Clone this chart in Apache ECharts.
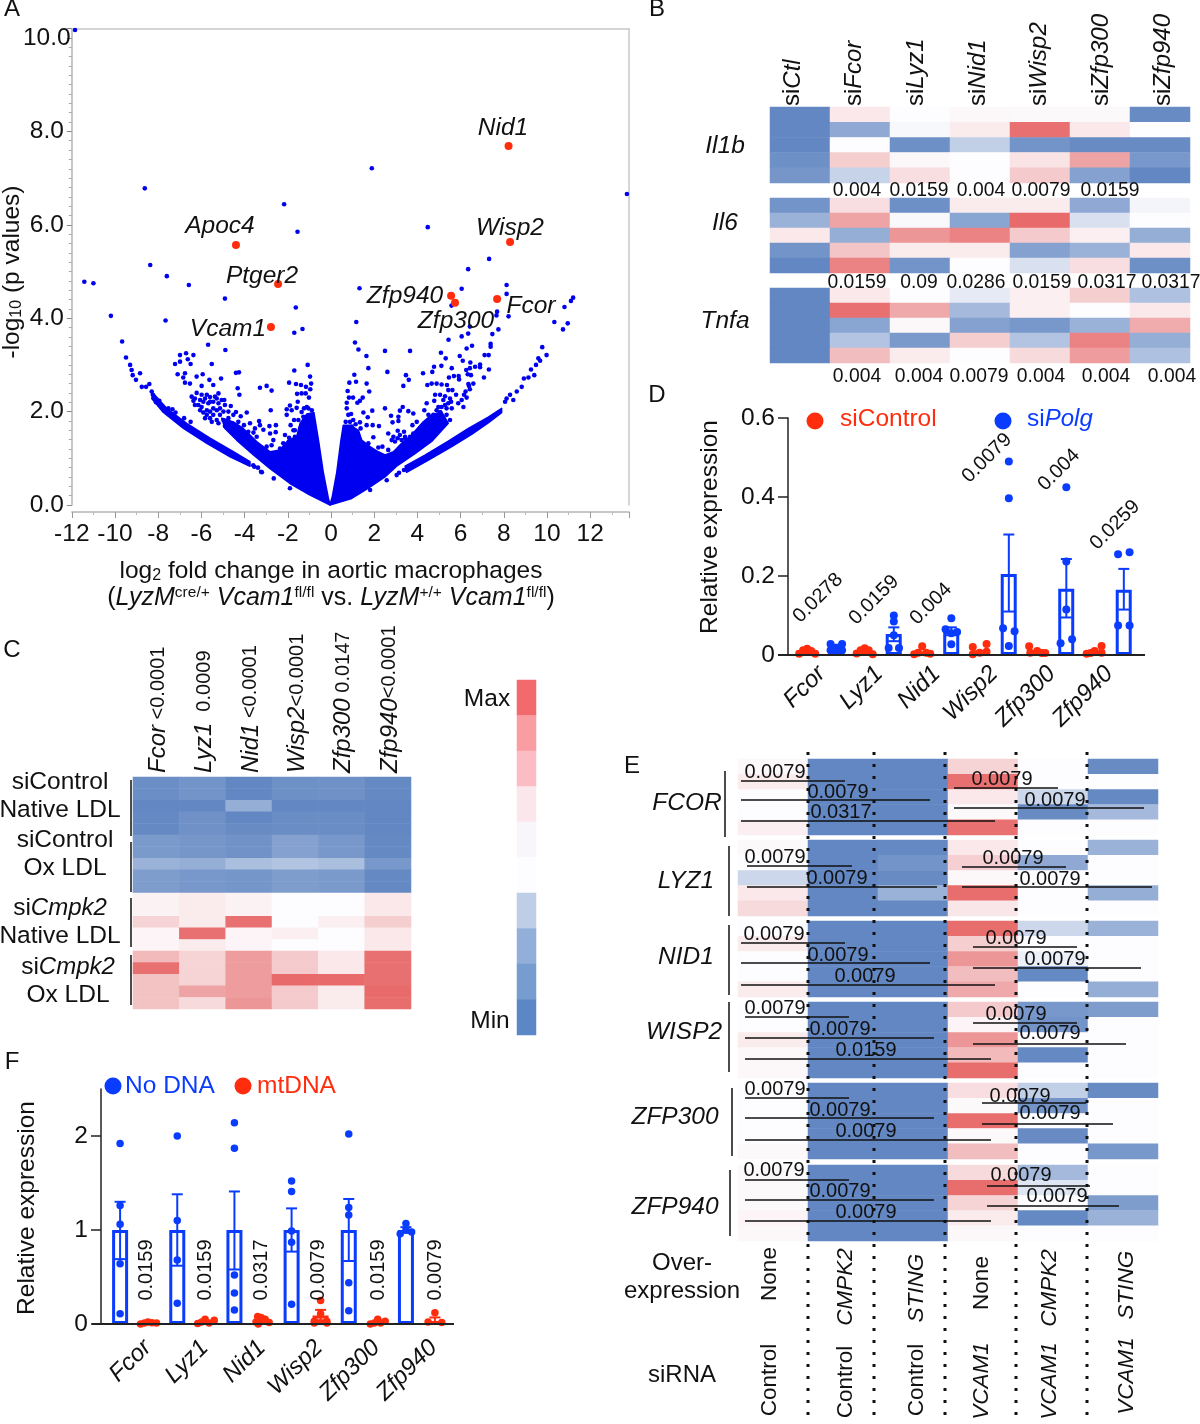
<!DOCTYPE html>
<html>
<head>
<meta charset="utf-8">
<style>
  html, body { margin: 0; background: #fff; }
  #chart { width: 1200px; height: 1424px; }
</style>
<script src="https://cdn.jsdelivr.net/npm/echarts@6/dist/echarts.min.js"></script>
</head>
<body>
<div id="chart"></div>
<script>
// panel A, log2 fold change / -log10 p
const geneHits = [
  ['Nid1', 8.22, 7.69], ['Apoc4', -4.4, 5.57], ['Ptger2', -2.45, 4.73], ['Vcam1', -2.78, 3.81],
  ['Wisp2', 8.29, 5.63], ['Zfp940', 5.56, 4.48], ['Zfp300', 5.74, 4.33], ['Fcor', 7.69, 4.41]
];
const volcanoOutliers = [
  [-11.85,10.17],[-8.62,6.78],[-2.17,6.44],[-1.55,5.85],[-8.37,5.14],[-7.6,4.9],[-11.42,4.78],[-11,4.75],[-6.58,4.71],
  [-4.91,4.42],[-1.63,4.23],[-10.19,4.05],[-7.66,3.95],[-1.32,3.77],[-1.7,3.69],
  [1.89,7.21],[4.48,5.95],[13.7,6.66],[7.32,5.27],[6.35,5.05],[8.13,4.71],[6.05,4.63],[1.32,4.64],[8.13,4.52],[5.58,4.27],
  [11.21,4.44],[11.11,4.37],[10.81,4.24],[8.22,4.04],[7.69,4.14],[7.66,4.06],[10.34,3.92],[10.96,3.89],[10.74,3.76],[1.17,3.92],
  [6.43,3.82],[7.75,3.76],[7.47,3.66],[6.35,3.67],[6.05,3.61],[5.44,3.54]
];
const volcanoLeftDots = [
  [-9.67,3.5],[-9.49,3.16],[-9.3,3],[-9.23,2.89],[-9.18,2.78],[-9.03,2.68],[-8.84,2.82],[-8.41,2.59],[-8.76,2.53],[-8.56,2.53],
  [-8.3,2.43],[-8.25,2.36],[-7.95,2.23],[-7.53,2.07],[-7.34,2.05],[-6.8,1.86],
  [-6.99,3.21],[-6.71,3.25],[-6.37,3.21],[-6.99,3.07],[-7.22,3.02],[-6.63,3.12],[-6.5,3.02],[-5.52,3.02],[-5.69,3.43],[-4.89,3.32],
  [-7.1,2.8],[-6.84,2.73],[-6.76,2.82],[-6.76,2.62],[-6.53,2.6],[-6.22,2.75],[-5.94,2.8],[-5.63,2.68],[-5.99,2.55],[-5.45,2.57],
  [-5.09,2.71],[-4.4,2.83],[-4.26,2.84],[-4.32,2.5],[-4.24,2.36],[-3.29,2.51],[-2.98,2.55],[-2.75,2.45],[-1.7,2.88],[-1.08,3],
  [-0.97,2.75],[-1.94,2.62],[-1.62,2.59],[-1.39,2.57],[-1.16,2.53],[-0.92,2.6],[-0.96,2.48],[-2.79,2.03],[-1.57,2.38],[-1.36,2.39],
  [-1.17,2.39],[-1.02,2.3],[-1.54,2.21],[-1.9,2.13],[-1.59,2.08],[-2.05,2.05],[-1.82,2.03],[-2.05,1.93],[-1.25,2.07],[-1.12,2.1],
  [-1.71,1.82],[-1.87,1.71],[-1.74,1.6],[-2.13,1.5],[-1.94,1.44],[-1.67,1.46],[-1.43,1.39],[-1.28,1.6],
  [-3.33,1.8],[-3.29,1.71],[-2.55,1.71],[-2.85,1.69],[-3.13,1.61],[-3.52,1.64],[-3.59,1.55],[-2.82,1.53],[-2.56,1.56],[-3.44,1.46],
  [-2.67,1.39],[-2.98,1.25],[-2.75,1.28],[-2.21,1.32],[-2.36,1.21],
  [-3.9,1.98],[-4.18,1.9],[-4.4,1.99],[-4.64,2.12],[-4.94,2.25],[-5.21,2.39],
  [-6.45,2.32],[-6.22,2.4],[-5.99,2.36],[-5.75,2.36],[-5.6,2.31],[-6.37,2.23],[-6.14,2.14],[-5.91,2.21],[-5.68,2.18],[-5.45,2.21],
  [-5.21,2.18],[-6.06,2.03],[-5.75,2.03],[-5.45,2.07],[-5.14,2.07],[-4.91,2.14],[-5.75,1.93],[-5.45,1.93],[-5.14,1.93],[-5.6,1.86],
  [-5.29,1.82],[-4.98,1.82],[-4.75,1.86],[-4.67,1.71],[-4.29,1.78],[-4.03,1.71],[-3.83,1.57],[-5.29,2.28],
  [-6.3,2.28],[-6.06,2.25],[-5.83,2.28],[-6.3,2.14],[-5.99,2.1],[-5.6,2.21],[-5.37,2.32],[-5.06,2.25],[-5.91,1.98],[-5.6,2],[-5.29,2.03],
  [-4.98,2],[-4.75,2],[-5.83,1.86],[-5.52,1.78],[-5.21,1.75],[-4.91,1.69],[-4.52,1.93],[-4.29,1.66],[-3.75,1.75],[-3.98,1.46],[-3.67,1.39],
  [-1.36,1.39],[-1.12,1.39],[-1.43,1.64],[-1.67,1.6],[-1.51,1.82],[-1.28,1.89],[-1.36,1.99],[-1.05,2.07],[-0.89,2.03],
  [-3.55,0.82],[-3.24,0.71],[-3.2,0.7],[-2.65,0.57],[-1.9,0.36],[-3.38,0.8],[-3.6,0.85],[-8.1,2.2],[-7.8,2.1],[-7.2,1.98],[-6.5,1.78]
];
const volcanoRightDots = [
  [1.11,3.48],[1.27,3.33],[1.64,3.19],[2.5,3.3],[3.66,3.3],[1.73,2.93],[2.61,2.85],[1.08,2.79],[0.85,2.62],[1.16,2.64],[1.65,2.6],
  [1.77,2.43],[0.77,2.44],[0.83,2.3],[1.02,2.3],[1.47,2.3],[1.34,2.23],[1.22,2.19],[0.73,2.19],[0.73,2.07],[2.5,2.07],[1.91,2.02],
  [1.5,1.98],[3.32,2.1],[3.19,2.02],[2.78,1.91],[3.12,1.89],[3.12,1.8],[2.85,1.77],[1.7,1.88],[1.34,1.77],[1.65,1.71],[1.93,1.71],
  [2.22,1.69],[1.37,1.64],[0.8,1.93],[0.93,1.95],[1.03,1.82],[1.14,1.73],[2.65,1.53],[3.09,1.59],[3.38,1.57],[1.96,1.45],[1.73,1.32],
  [2.19,1.23],[2.38,1.25],[2.96,1.36],[2.81,1.39],[3.09,1.43],[3.43,1.43],
  [3.47,2.78],[3.6,2.68],[3.35,2.55],[4.26,2.82],[4.69,2.85],[4.77,2.96],[5.11,2.98],[5.09,3.26],[5.31,3.14],[5.59,2.93],[5.46,2.73],
  [5.69,2.76],[5.91,2.76],[5.93,2.69],[5.37,2.57],[4.46,2.57],[4.66,2.6],[4.89,2.6],[5.12,2.58],[5.43,2.46],[5.62,2.46],[4.82,2.36],
  [5.05,2.36],[5.28,2.33],[5.79,2.36],[4.43,2.18],[4.78,2.23],[4.32,2.03],[3.58,2.01],[3.81,1.96],[3.77,1.71],[3.97,1.78],[5.96,3.19],
  [6.1,3.09],[6.28,3.35],[6.53,3.41],[6.45,3.05],[6.67,2.96],[6.9,3.01],[6.9,2.95],[6.43,2.93],[6.26,2.89],[6.33,2.8],[6.48,2.78],
  [7.08,2.73],[7.31,2.9],[7.11,3.21],[7.3,3.21],[7.39,3.39],[7.39,3.45],[6.59,2.6],[6.36,2.59],[6.39,2.55],[6.43,2.48],[6.23,2.43],
  [6.16,2.36],[6.28,2.3],[6.05,2.25],[5.89,2.18],[6.13,2.1],
  [5.2,2.25],[5.43,2.18],[5.56,2.21],[5.12,2.1],[5.35,2.07],[5.59,2.07],[5.05,1.99],[5.35,1.93],[5.51,1.82],[5.25,1.78],[4.97,1.71],
  [4.74,1.93],[4.51,1.82],[4.35,1.71],[4.12,1.64],[3.43,1.46],[3.81,1.53],
  [4.51,1.93],[4.89,2.03],[4.97,2.1],[5.28,2.14],[5.51,2.28],[4.89,1.89],[5.12,1.85],[4.66,1.75],[4.35,1.6],[4.04,1.5],[3.66,1.46],
  [3.27,1.39],[3.58,1.39],[2.65,1.18],[3.19,1.5],[2.89,1.46],
  [0.8,1.5],[0.96,1.68],[0.88,1.78],[0.68,1.78],
  [8.13,2.28],[8.29,2.36],[8.06,2.21],[8.44,2.25],[8.6,2.43],[8.83,2.53],[9.14,2.73],[8.93,2.71],[9.41,2.78],[9.26,2.9],[9.49,3],
  [9.68,3.09],[9.6,3.14],[9.98,3.21],[9.78,3.38],[3.38,0.75],[3.04,0.64],[3.15,0.69],[2.58,0.53],[1.81,0.32]
];
// outlines of the solid blue areas, same units as the dots
const leftMass = [[-0.04,0],[-0.97,0.21],[-1.9,0.46],[-2.82,0.78],[-3.59,1.07],[-4.37,1.39],[-4.91,1.64],[-5.06,1.86],[-4.52,1.78],[-4.06,1.64],
  [-3.44,1.36],[-2.82,1.14],[-2.36,1.18],[-1.98,1.39],[-1.59,1.46],[-1.43,1.75],[-1.12,1.95],[-0.79,1.98],[-0.58,1.39],[-0.35,0.68],[-0.12,0.14]];
const rightMass = [[-0.05,0],[0.96,0.14],[1.73,0.36],[2.5,0.6],[3.04,0.83],[3.89,1.1],[4.66,1.36],[5.43,1.75],[5.12,2],[4.66,1.93],[4.27,1.78],
  [3.73,1.5],[3.27,1.32],[2.89,1.14],[2.5,1.07],[2.19,1.14],[1.81,1.25],[1.42,1.39],[1.27,1.6],[0.88,1.71],[0.57,1.71],[0.46,1.39],[0.26,0.68],[0.06,0.18]];
const leftArm = [[-8.22,2.39],[-7.61,2.07],[-6.68,1.75],[-5.6,1.43],[-4.52,1.14],[-3.75,0.93],[-3.75,0.83],[-4.67,1.03],[-5.75,1.32],[-6.83,1.64],[-7.76,1.98],[-8.3,2.28]];
const rightArm = [[3.43,0.83],[4.35,1.07],[5.43,1.37],[6.36,1.64],[7.28,1.88],[7.9,2.07],[7.9,1.98],[7.28,1.76],[6.51,1.51],[5.59,1.25],[4.51,0.96],[3.5,0.7]];

// panel B
const bCols = ['Ctl', 'Fcor', 'Lyz1', 'Nid1', 'Wisp2', 'Zfp300', 'Zfp940'];
const bIl1b = [
  [-1, .12, 0, .03, .02, .02, -.95],
  [-1, -.6, -.03, .1, .95, .12, 0],
  [-1, 0, -.9, -.3, -.85, -.95, -.95],
  [-.9, .28, .03, 0, .15, .55, -.8],
  [-.82, -.28, .18, 0, .3, -.7, -1]
];
const bIl6 = [
  [-.85, .18, -.9, .1, .1, -.6, -.05],
  [-.5, .55, -.02, -.65, 1, -.18, 0],
  [.12, -.55, .65, .8, .3, .08, -.55],
  [-.85, .33, .1, .1, -.7, -.5, .12],
  [-1, .8, -.85, 0, -.18, .18, -.9]
];
const bTnfa = [
  [-1, .12, 0, -.12, .08, .28, -.4],
  [-1, .95, .5, -.45, .08, 0, .12],
  [-1, -.65, .03, -.7, -.8, -.5, .48],
  [-1, -.38, -.78, .28, -.38, .8, -.55],
  [-1, .38, .1, 0, .2, .6, -.4]
];

// panel C
const cCols = ['Fcor <0.0001', 'Lyz1  0.0009', 'Nid1 <0.0001', 'Wisp2<0.0001', 'Zfp300 0.0147', 'Zfp940<0.0001'];
const cValues = [
  [-.92, -.85, -1, -.9, -.88, -.97],
  [-.92, -.85, -1, -.9, -.88, -.97],
  [-1, -1, -.55, -1, -1, -1],
  [-.97, -.88, -1, -.93, -.93, -1],
  [-.97, -.88, -.95, -.93, -.93, -1],
  [-.78, -.82, -.87, -.7, -.8, -.97],
  [-.78, -.82, -.87, -.7, -.8, -.97],
  [-.5, -.55, -.42, -.38, -.42, -.8],
  [-.75, -.8, -.83, -.75, -.78, -.97],
  [-.75, -.8, -.83, -.75, -.78, -.97],
  [.06, .1, .06, 0, 0, .12],
  [.06, .1, .06, 0, 0, .12],
  [.25, .1, .95, 0, .08, .28],
  [.05, .95, .05, .08, 0, .12],
  [.05, .1, .05, 0, 0, .12],
  [.4, .25, .6, .3, .12, .95],
  [.95, .25, .6, .3, .12, .95],
  [.35, .25, .6, 1, 1, .95],
  [.35, .55, .6, .3, .1, 1],
  [.35, .2, .65, .3, .1, .98]
];
const colorBarSteps = [1, .78, .56, .33, .11, -.11, -.33, -.56, -.78, -1];

// panel D
const barGenes = ['Fcor', 'Lyz1', 'Nid1', 'Wisp2', 'Zfp300', 'Zfp940'];
const dRedMeans = [.008, .008, .008, .012, .008, .01];
const dBlueMeans = [.02, .053, .06, .205, .168, .165];
const dBlueLow = [.012, .035, .05, .11, .095, .115];
const dBlueHigh = [.026, .07, .07, .305, .243, .218];
const dRedDots = [
  [[-.14,.003],[-.07,.012],[0,.016],[.07,.01],[.14,.003]],
  [[-.14,.004],[-.07,.012],[0,.017],[.07,.012],[.14,.002]],
  [[-.14,.002],[-.07,.006],[0,.022],[.07,.006],[.14,.003]],
  [[-.12,.002],[-.12,.02],[0,.006],[.12,.008],[.12,.028]],
  [[-.14,.022],[-.12,.006],[0,.01],[.08,.005],[.14,.005]],
  [[-.14,.003],[-.07,.005],[0,.01],[.12,.006],[.12,.023]]
];
const dBlueDots = [
  [[-.1,.028],[.1,.028],[-.1,.012],[.1,.012],[0,.016]],
  [[0,.1],[0,.085],[0,.05],[-.09,.018],[.09,.018]],
  [[0,.093],[-.1,.065],[.1,.058],[0,.055],[0,.027]],
  [[0,.49],[0,.397],[-.1,.068],[.1,.06],[0,.023]],
  [[0,.425],[0,.237],[0,.115],[.1,.04],[-.1,.03]],
  [[-.1,.255],[.1,.26],[-.1,.075],[.1,.075]]
];

// panel E
const eGenes = ['FCOR', 'LYZ1', 'NID1', 'WISP2', 'ZFP300', 'ZFP940'];
const eOverExpression = ['None', 'CMPK2', 'STING', 'None', 'CMPK2', 'STING'];
const eSiRna = ['Control', 'Control', 'Control', 'VCAM1', 'VCAM1', 'VCAM1'];
const eFcor = [
  [.03, -1, -1, .25, 0, -.95],
  [.1, -1, -1, .95, 0, 0],
  [0, -1, -1, .12, -.25, -.98],
  [0, -1, -1, .02, -.95, -.45],
  [.08, -1, -1, .95, 0, 0]
];
const eLyz1 = [
  [.02, -1, -.97, .12, 0, -.5],
  [0, -1, -.85, .27, -.6, 0],
  [-.25, -1, -.95, .03, 0, 0],
  [.12, -1, -.5, .97, 0, -.55],
  [.2, -1, -.97, .13, 0, 0]
];
const eNid1 = [
  [0, -1, -1, .97, -.25, -.5],
  [.1, -1, -1, .28, 0, 0],
  [0, -1, -1, .65, -.08, 0],
  [0, -1, -1, .38, -.97, 0],
  [.1, -1, -1, .5, 0, -.55]
];
const eWisp2 = [
  [0, -1, -1, .3, -.8, -.75],
  [0, -1, -1, .05, -.85, 0],
  [.1, -1, -1, .65, 0, 0],
  [.03, -1, -1, .4, -.97, 0],
  [.03, -1, -1, .97, 0, 0]
];
const eZfp300 = [
  [0, -1, -1, .18, -.3, -.95],
  [0, -1, -1, .02, -.85, 0],
  [0, -1, -1, .97, 0, 0],
  [0, -1, -1, .02, -.95, 0],
  [.02, -1, -1, .38, 0, -.8]
];
const eZfp940 = [
  [.02, -1, -1, .2, -.45, 0],
  [.02, -1, -1, .97, -.15, 0],
  [.02, -1, -1, .25, 0, -.75],
  [.05, -1, -1, .1, -.97, -.5],
  [.03, -1, -1, .03, 0, 0]
];

// panel F
const fBlueMeans = [1, 1, 1, 1, 1, 1];
const fRedMeans = [.01, .02, .03, .09, .02, .03];
const fBlueLow = [.69, .62, .58, .77, .67, .97];
const fBlueHigh = [1.3, 1.38, 1.41, 1.23, 1.33, 1.03];
const fRedLow = [0, .01, .01, .04, .01, 0];
const fRedHigh = [.02, .03, .05, .15, .03, .07];
const fBlueDots = [
  [[0,1.92],[0,1.26],[0,1.06],[0,.64],[0,.11]],
  [[0,2],[0,1.1],[0,.68],[0,.22]],
  [[0,2.14],[0,1.87],[0,.52],[0,.33],[0,.15]],
  [[0,1.52],[0,1.41],[0,.99],[0,.87],[0,.21]],
  [[0,2.02],[0,1.24],[0,1.16],[0,.44],[0,.14]],
  [[0,1.07],[-.1,.96],[.1,.98],[0,1]]
];
const fRedDots = [
  [[-.15,0],[-.08,.01],[-.02,.02],[.05,.012],[.13,.01]],
  [[-.15,.005],[-.08,.02],[-.02,.05],[.05,.01],[.14,.04]],
  [[-.1,.08],[-.04,.07],[.03,.05],[-.13,.02],[.1,.015],[-.09,0]],
  [[0,.25],[0,.11],[-.11,.03],[.11,.03],[-.11,.01],[.11,.01]],
  [[-.13,0],[-.06,.01],[0,.05],[.05,.01],[.13,.03]],
  [[0,.12],[-.12,.02],[.12,.015]]
];

const FONT = '"Liberation Sans", Arial, sans-serif';
const BLUE = '#0a3cff';
const RED = '#ff2d0d';
const DOT_BLUE = '#0000f0';
const INK = '#111';

const grids = [], xAxes = [], yAxes = [], series = [], gfx = [], heatIdx = [];

const rich = {
  i: { fontStyle: 'italic', fontSize: 24, fontFamily: FONT },
  s: { fontSize: 20, fontFamily: FONT },
  sub: { fontSize: 16, fontFamily: FONT, verticalAlign: 'bottom', lineHeight: 26 },
  sup: { fontSize: 15.5, fontFamily: FONT, verticalAlign: 'top', lineHeight: 26 },
  n: { fontSize: 25, fontFamily: FONT, lineHeight: 26 },
  ni: { fontStyle: 'italic', fontSize: 25, fontFamily: FONT, lineHeight: 26 }
};

function txt(x, y, text, opt) {
  opt = opt || {};
  gfx.push({
    type: 'text', x: x, y: y, z: 100, silent: true,
    rotation: (opt.rot || 0) * Math.PI / 180,
    style: {
      text: text, fontSize: opt.size || 24.5, fontFamily: FONT, fontStyle: opt.italic ? 'italic' : 'normal',
      fill: opt.color || INK, align: opt.align || 'center', verticalAlign: 'middle',
      textAlign: opt.align || 'center', textVerticalAlign: 'middle', rich: opt.rich
    }
  });
}
function seg(x1, y1, x2, y2, opt) {
  opt = opt || {};
  gfx.push({
    type: 'line', z: opt.z || 90, silent: true,
    shape: { x1: x1, y1: y1, x2: x2, y2: y2 },
    style: { stroke: opt.color || '#111', lineWidth: opt.width || 1.5, lineDash: opt.dash }
  });
}
function dot(x, y, r, color) {
  gfx.push({ type: 'circle', z: 100, silent: true, shape: { cx: x, cy: y, r: r }, style: { fill: color } });
}

const hiddenCat = { axisLine: { show: false }, axisTick: { show: false }, splitLine: { show: false } };

// rotated column names on a band of their own, they are not quite under their columns
function topLabels(left, top, width, labels, fmt, margin) {
  const g = grids.length;
  grids.push({ left: left, top: top, width: width, height: 10 });
  xAxes.push(Object.assign({
    gridIndex: g, type: 'category', position: 'top', data: labels,
    axisLabel: {
      show: true, interval: 0, rotate: 90, margin: margin, color: INK, hideOverlap: false, rich: rich,
      fontFamily: FONT, fontSize: 24, formatter: fmt
    }
  }, hiddenCat));
  yAxes.push({ gridIndex: g, type: 'value', min: 0, max: 1, show: false });
}

// one heatmap block on its own grid
function heat(left, top, width, height, matrix) {
  const g = grids.length;
  grids.push({ left: left, top: top, width: width, height: height });
  xAxes.push(Object.assign({
    gridIndex: g, type: 'category', data: matrix[0].map((_, i) => i), axisLabel: { show: false }
  }, hiddenCat));
  yAxes.push(Object.assign({
    gridIndex: g, type: 'category', inverse: true, data: matrix.map((_, i) => i), axisLabel: { show: false }
  }, hiddenCat));
  const data = [];
  matrix.forEach((row, r) => row.forEach((v, c) => data.push([c, r, v])));
  heatIdx.push(series.length);
  series.push({
    type: 'heatmap', xAxisIndex: xAxes.length - 1, yAxisIndex: yAxes.length - 1, data: data,
    itemStyle: { borderWidth: 0 }, emphasis: { disabled: true }, silent: true
  });
}

// hollow bars, dots and error bars, shared by panels D and F
function barPanel(p) {
  const g = grids.length;
  grids.push({ left: p.left, top: p.top, width: p.width, height: p.height });
  const xCat = xAxes.length;
  const catLabel = { interval: 0, rotate: 45, margin: p.labelMargin, color: INK, fontFamily: FONT, fontSize: 24, fontStyle: 'italic', hideOverlap: false };
  xAxes.push(Object.assign({
    gridIndex: g, type: 'category', data: barGenes, axisLabel: p.labelDx ? { show: false } : catLabel
  }, hiddenCat));
  const xVal = xAxes.length;
  xAxes.push({ gridIndex: g, type: 'value', min: 0, max: 6, show: false });
  const yIdx = yAxes.length;
  yAxes.push({
    gridIndex: g, type: 'value', min: 0, max: p.yMax, interval: p.yStep, offset: 5, splitLine: { show: false },
    axisLine: { show: true, onZero: false, lineStyle: { color: '#222', width: 1.5 } },
    axisTick: { show: true, length: 10, customValues: p.ticks, lineStyle: { color: '#222', width: 1.5 } },
    axisLabel: {
      color: INK, fontFamily: FONT, fontSize: 24.5, margin: 13, customValues: p.ticks,
      formatter: v => (p.fmt ? p.fmt(v) : String(v))
    }
  });
  if (p.labelDx) {
    // the tick labels sit a little right of their bars here, so they get their own band
    const gl = grids.length;
    grids.push({ left: p.left + p.labelDx, top: p.top, width: p.width, height: p.height });
    xAxes.push(Object.assign({ gridIndex: gl, type: 'category', data: barGenes, axisLabel: catLabel }, hiddenCat));
    yAxes.push({ gridIndex: gl, type: 'value', min: 0, max: p.yMax, show: false });
  }
  const groups = [p.first, p.second];
  groups.forEach(s => {
    series.push({
      type: 'bar', xAxisIndex: xCat, yAxisIndex: yIdx, data: s.means, barWidth: 16, barGap: '81%', silent: true,
      itemStyle: { color: 'rgba(0,0,0,0)', borderColor: s.color, borderWidth: 3 }
    });
  });
  groups.forEach((s, k) => {
    const side = k === 0 ? -0.2535 : 0.2535;
    if (s.low) {
      series.push({
        type: 'custom', xAxisIndex: xVal, yAxisIndex: yIdx, silent: true, z: 4,
        data: s.low.map((lo, i) => [i + 0.5 + side, lo, s.high[i]]),
        encode: { x: 0, y: [1, 2] },
        renderItem: (params, api) => {
          const a = api.coord([api.value(0), api.value(1)]);
          const b = api.coord([api.value(0), api.value(2)]);
          const st = { stroke: s.color, lineWidth: 2, fill: 'none' };
          const line = (x1, y1, x2, y2) => ({ type: 'line', shape: { x1: x1, y1: y1, x2: x2, y2: y2 }, style: st });
          return {
            type: 'group',
            children: [line(a[0], a[1], b[0], b[1]), line(a[0] - 5.5, a[1], a[0] + 5.5, a[1]), line(a[0] - 5.5, b[1], a[0] + 5.5, b[1])]
          };
        }
      });
    }
    const pts = [];
    s.dots.forEach((list, i) => list.forEach(d => pts.push([i + 0.5 + side + d[0], d[1]])));
    series.push({
      type: 'scatter', xAxisIndex: xVal, yAxisIndex: yIdx, data: pts, symbolSize: p.dotSize, silent: true, z: 5, clip: false,
      itemStyle: { color: s.color, opacity: 1 }
    });
  });
}

// ---- panel A
function buildVolcano() {
  const g = grids.length;
  grids.push({ left: 71.8, top: 505 - 10.2 * 46.7, width: 21.6 * 25.8, height: 10.2 * 46.7 });
  const gray = { color: '#b5b5b5', width: 1.5 };
  const x0 = xAxes.length;
  xAxes.push({
    gridIndex: g, type: 'value', min: -12, max: 13.8, interval: 2, offset: 7, splitLine: { show: false },
    axisLine: { show: true, onZero: false, lineStyle: gray },
    axisTick: { show: true, length: 6, lineStyle: { color: '#999' } },
    minorTick: { show: true, splitNumber: 2, length: 3, lineStyle: { color: '#bbb' } },
    axisLabel: { color: INK, fontFamily: FONT, fontSize: 24.5, margin: 10, showMaxLabel: false }
  });
  xAxes.push({
    gridIndex: g, type: 'value', min: -12, max: 13.8, splitLine: { show: false },
    axisLine: { show: true, onZero: false, lineStyle: { color: '#c8c8c8', width: 1.5 } },
    axisTick: { show: false }, axisLabel: { show: false }
  });
  const y0 = yAxes.length;
  yAxes.push({
    gridIndex: g, type: 'value', min: 0, max: 10.2, interval: 2, splitLine: { show: false },
    axisLine: { show: true, onZero: false, lineStyle: gray },
    axisTick: { show: true, length: 5, lineStyle: { color: '#888' } },
    minorTick: { show: true, splitNumber: 10, length: 3, lineStyle: { color: '#aaa' } },
    axisLabel: { color: INK, fontFamily: FONT, fontSize: 24.5, align: 'center', margin: 25, showMaxLabel: false, formatter: v => v.toFixed(1) }
  });
  yAxes.push({
    gridIndex: g, type: 'value', position: 'right', min: 0, max: 10.2, splitLine: { show: false },
    axisLine: { show: true, onZero: false, lineStyle: { color: '#c8c8c8', width: 1.5 } },
    axisTick: { show: false }, axisLabel: { show: false }
  });
  const polys = [leftMass, rightMass, leftArm, rightArm];
  series.push({
    type: 'custom', xAxisIndex: x0, yAxisIndex: y0, clip: false, silent: true, z: 2,
    data: polys.map((_, i) => [i, 0]),
    encode: { x: 0, y: 1 },
    renderItem: (params, api) => ({
      type: 'polygon',
      shape: { points: polys[params.dataIndex].map(p => api.coord(p)) },
      style: { fill: DOT_BLUE, stroke: DOT_BLUE, lineWidth: 1.5, lineJoin: 'round' }
    })
  });
  series.push({
    type: 'scatter', xAxisIndex: x0, yAxisIndex: y0, clip: false, silent: true, z: 3, symbolSize: 4.6,
    data: volcanoOutliers.concat(volcanoLeftDots, volcanoRightDots),
    itemStyle: { color: DOT_BLUE, opacity: 1 }
  });
  series.push({
    type: 'scatter', xAxisIndex: x0, yAxisIndex: y0, silent: true, z: 4, symbolSize: 8,
    data: geneHits.map(h => [h[1], h[2]]),
    itemStyle: { color: RED, opacity: 1 }
  });
}

const chart = echarts.init(document.getElementById('chart'), null, { renderer: 'canvas' });

buildVolcano();
txt(331, 571, 'log{sub|2} fold change in aortic macrophages', { rich: rich });
txt(331, 598, '({ni|LyzM}{sup|cre/+} {ni|Vcam1}{sup|fl/fl} {n|vs.} {ni|LyzM}{sup|+/+} {ni|Vcam1}{sup|fl/fl}{n|)}', { rich: rich, size: 25 });
txt(12, 272, '-log{sub|10} (p values)', { rich: rich, rot: 90 });
txt(503, 128, 'Nid1', { italic: true });
txt(220, 226, 'Apoc4', { italic: true });
txt(262, 276, 'Ptger2', { italic: true });
txt(228, 329, 'Vcam1', { italic: true });
txt(510, 228, 'Wisp2', { italic: true });
txt(405, 296, 'Zfp940', { italic: true });
txt(456, 321, 'Zfp300', { italic: true });
txt(531, 306, 'Fcor', { italic: true });

// ---- panel B
const bFmt = v => 'si{i|' + v + '}';
topLabels(762, 107, 432, bCols, bFmt, 1);
heat(770, 107, 420, 76, bIl1b);
heat(770, 198, 420, 75, bIl6);
heat(770, 288, 420, 75, bTnfa);
txt(725, 146, 'Il1b', { italic: true });
txt(725, 223, 'Il6', { italic: true });
txt(725, 321, 'Tnfa', { italic: true });
[[857,'0.004'],[919,'0.0159'],[981,'0.004'],[1041,'0.0079'],[1110,'0.0159']].forEach(a => txt(a[0], 191, a[1], { size: 19.3 }));
[[857,'0.0159'],[919,'0.09'],[976,'0.0286'],[1042,'0.0159'],[1107,'0.0317'],[1171,'0.0317']].forEach(a => txt(a[0], 283, a[1], { size: 19.3 }));
[[857,'0.004'],[919,'0.004'],[979,'0.0079'],[1041,'0.004'],[1106,'0.004'],[1172,'0.004']].forEach(a => txt(a[0], 377, a[1], { size: 19.3 }));

// ---- panel C
const cFmt = v => {
  const m = v.match(/^([A-Za-z0-9]+?\d*)(\s*[<\s].*)$/);
  return '{i|' + m[1] + '}{s|' + m[2] + '}';
};
topLabels(135, 777, 278, cCols, cFmt, 4);
heat(133, 777, 278, 232, cValues);
heat(517, 680, 19, 355, colorBarSteps.map(v => [v]));
const colorBarSeries = heatIdx.pop();
[[60,782,'siControl'],[60,810,'Native LDL'],[65,840,'siControl'],[65,868,'Ox LDL'],[60,936,'Native LDL'],[68,995,'Ox LDL']]
  .forEach(a => txt(a[0], a[1], a[2]));
txt(60, 908, 'si{i|Cmpk2}', { rich: rich });
txt(68, 967, 'si{i|Cmpk2}', { rich: rich });
seg(131, 780, 131, 836); seg(131, 842, 131, 892); seg(131, 898, 131, 947); seg(131, 955, 131, 1005);
txt(487, 699, 'Max');
txt(490, 1021, 'Min');

// ---- panel D
barPanel({
  left: 793, top: 418, width: 345, height: 237, yMax: 0.6, yStep: 0.2, dotSize: 8, labelMargin: 15,
  fmt: v => (v === 0 ? '0' : v.toFixed(1)),
  first: { color: RED, means: dRedMeans, dots: dRedDots },
  second: { color: BLUE, means: dBlueMeans, low: dBlueLow, high: dBlueHigh, dots: dBlueDots }
});
seg(778, 655, 1145, 655, { width: 2, color: '#222' });
txt(710, 527, 'Relative expression', { rot: 90 });
dot(815, 421, 8.5, RED);
txt(840, 419, 'siControl', { color: RED, align: 'left' });
dot(1003, 421, 8.5, BLUE);
txt(1027, 419, 'si{i|Polg}', { color: BLUE, align: 'left', rich: rich });
[[818,598,'0.0278'],[874,600,'0.0159'],[931,604,'0.004'],[987,458,'0.0079'],[1059,470,'0.004'],[1115,525,'0.0259']]
  .forEach(a => txt(a[0], a[1], a[2], { size: 20, rot: 45 }));

// ---- panel E
const eBlocks = [eFcor, eLyz1, eNid1, eWisp2, eZfp300, eZfp940];
[759, 840, 921, 1002, 1083, 1165].forEach((top, i) => heat(738, top, 420, 76, eBlocks[i]));
[[687,803],[686,881],[686,957],[684,1032],[675,1117],[675,1207]].forEach((p, i) => txt(p[0], p[1], eGenes[i], { italic: true }));
seg(725, 771, 725, 837); seg(729, 846, 729, 916); seg(729, 925, 729, 995);
seg(729, 1002, 729, 1072); seg(732, 1088, 732, 1156); seg(730, 1170, 730, 1236);
[808, 874, 945, 1016, 1087].forEach(x => seg(x, 752, x, 1424, { width: 3, dash: [3, 9], z: 95 }));
const eP = [
  [775,772,'0.0079',741,845,781],[838,792,'0.0079',741,930,800],[841,812,'0.0317',741,995,821],
  [1002,779,'0.0079',954,1058,788],[1055,800,'0.0079',954,1144,808],
  [775,857,'0.0079',747,852,866],[837,878,'0.0079',747,937,887],
  [1013,858,'0.0079',962,1066,867],[1050,879,'0.0079',962,1152,887],
  [774,934,'0.0079',741,845,943],[838,955,'0.0079',741,930,963],[865,976,'0.0079',741,995,985],
  [1016,938,'0.0079',973,1077,947],[1055,959,'0.0079',973,1141,968],
  [775,1008,'0.0079',745,849,1017],[840,1029,'0.0079',745,934,1038],[866,1050,'0.0159',745,991,1059],
  [1016,1014,'0.0079',973,1077,1023],[1050,1033,'0.0079',973,1126,1044],
  [775,1089,'0.0079',745,849,1098],[840,1110,'0.0079',745,934,1118],[866,1131,'0.0079',745,991,1140],
  [1020,1096,'0.0079',982,1086,1103],[1050,1113,'0.0079',982,1113,1124],
  [774,1170,'0.0079',745,849,1180],[840,1191,'0.0079',745,934,1200],[866,1212,'0.0079',745,991,1221],
  [1021,1175,'0.0079',987,1090,1186],[1057,1196,'0.0079',987,1119,1206]
];
eP.forEach(a => { txt(a[0], a[1], a[2], { size: 20 }); seg(a[3], a[5], a[4], a[5]); });
txt(682, 1263, 'Over-', { size: 24 });
txt(682, 1291, 'expression', { size: 24 });
txt(682, 1375, 'siRNA', { size: 24 });
const eColX = [770, 846, 917, 982, 1050, 1127];
const eOverY = [1274, 1287, 1288, 1283, 1288, 1285];
const eSiY = [1380, 1382, 1380, 1381, 1381, 1376];
eOverExpression.forEach((t, i) => txt(eColX[i], eOverY[i], t, { size: 22.5, rot: 90, italic: t !== 'None' }));
eSiRna.forEach((t, i) => txt(eColX[i], eSiY[i], t, { size: 22.5, rot: 90, italic: t !== 'Control' }));

// ---- panel F
barPanel({
  left: 106, top: 1324 - 2.5 * 94, width: 343, height: 2.5 * 94, yMax: 2.5, yStep: 1, ticks: [0, 1, 2], dotSize: 7.5,
  labelMargin: 20, labelDx: 13,
  first: { color: BLUE, means: fBlueMeans, low: fBlueLow, high: fBlueHigh, dots: fBlueDots },
  second: { color: RED, means: fRedMeans, low: fRedLow, high: fRedHigh, dots: fRedDots }
});
seg(92, 1324, 454, 1324, { width: 2, color: '#222' });
txt(27, 1208, 'Relative expression', { rot: 90 });
dot(113, 1086, 8.5, BLUE);
txt(125, 1086, 'No DNA', { color: BLUE, align: 'left' });
dot(243, 1086, 8.5, RED);
txt(257, 1086, 'mtDNA', { color: RED, align: 'left' });
[[146,'0.0159'],[205,'0.0159'],[261,'0.0317'],[318,'0.0079'],[378,'0.0159'],[435,'0.0079']]
  .forEach(a => txt(a[0], 1270, a[1], { size: 20, rot: 90 }));

// panel letters
[[12,9,'A'],[657,9,'B'],[12,650,'C'],[657,395,'D'],[632,766,'E'],[12,1062,'F']].forEach(a => txt(a[0], a[1], a[2], { size: 24 }));

chart.setOption({
  animation: false,
  backgroundColor: '#fff',
  textStyle: { fontFamily: FONT },
  tooltip: { show: false },
  grid: grids,
  xAxis: xAxes,
  yAxis: yAxes,
  visualMap: [
    {
      show: false, type: 'continuous', min: -1, max: 1, seriesIndex: heatIdx,
      inRange: { color: ['#6287c2', '#9ab2d8', '#fdfcfe', '#efa9aa', '#e86a6a'] }
    },
    {
      show: false, type: 'continuous', min: -1, max: 1, seriesIndex: [colorBarSeries],
      inRange: { color: ['#5b87c6', '#779cd0', '#93afd9', '#bccde6', '#fdfdff', '#f8f6fa', '#fbe6eb', '#fbbec4', '#fa9ea4', '#f26a6c'] }
    }
  ],
  series: series,
  graphic: { elements: gfx }
});
</script>
</body>
</html>
